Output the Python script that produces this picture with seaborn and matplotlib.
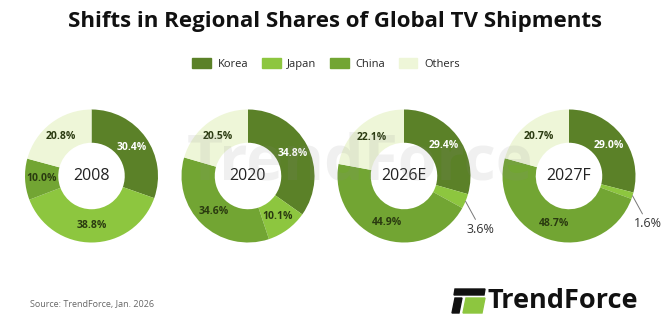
import matplotlib
matplotlib.use("Agg")
import matplotlib.pyplot as plt
import seaborn as sns
import numpy as np
from matplotlib.patches import Polygon, Rectangle

years = ["2008", "2020", "2026E", "2027F"]
regions = ["Korea", "Japan", "China", "Others"]
korea = [30.4, 34.8, 29.4, 29.0]
japan = [38.8, 10.1, 3.6, 1.6]
china = [10.0, 34.6, 44.9, 48.7]
others = [20.8, 20.5, 22.1, 20.7]

colors = ["#5b8128", "#8dc63f", "#72a533", "#eef6d8"]

sns.set_theme(style="white")
plt.rcParams['font.family'] = ['Open Sans', 'DejaVu Sans']

W, H = 670, 325
fig = plt.figure(figsize=(W / 100, H / 100), dpi=100)

centers = [(91.5, 176), (248, 176), (404, 176), (569, 176)]
R = 66.5
half = R * 1.04

# watermark (faint)
fig.text(360 / W, 1 - 163 / H, "TrendForce", ha="center", va="center",
         fontsize=45, fontweight="bold", color="#888888", alpha=0.12, zorder=0)

for i, yr in enumerate(years):
    cx, cy = centers[i]
    ax = fig.add_axes([(cx - half) / W, (H - cy - half) / H, 2 * half / W, 2 * half / H])
    ax.patch.set_alpha(0)
    vals = [korea[i], japan[i], china[i], others[i]]
    wedges, _ = ax.pie(vals, colors=colors, startangle=90, counterclock=False,
                       radius=1.0, wedgeprops=dict(width=0.5, edgecolor="none"))
    ax.set_xlim(-1.04, 1.04)
    ax.set_ylim(-1.04, 1.04)
    ax.set_aspect("equal")
    ax.axis("off")
    start = 90.0
    for j, v in enumerate(vals):
        ang = start - v * 3.6 / 2
        start -= v * 3.6
        rad = np.deg2rad(ang)
        txt = f"{v:.1f}%"
        if v < 5:
            x0, y0 = np.cos(rad) * 1.0, np.sin(rad) * 1.0
            ax.annotate(txt, xy=(x0, y0), xytext=(x0 + 0.02, y0 - 0.42),
                        fontsize=9, color="#333333", ha="left", va="center",
                        arrowprops=dict(arrowstyle="-", color="#777777", lw=0.7,
                                        shrinkA=0, shrinkB=0),
                        annotation_clip=False)
        else:
            r = 0.75
            col = "white" if j == 0 else "#2a3a10"
            ax.text(np.cos(rad) * r, np.sin(rad) * r, txt, ha="center", va="center",
                    fontsize=7.5, fontweight="bold", color=col)
    ax.text(0, 0, yr, ha="center", va="center", fontsize=11.5, color="#222222")

# title
fig.text(0.5, 1 - 22 / H, "Shifts in Regional Shares of Global TV Shipments",
         ha="center", va="center", fontsize=16, fontweight="bold", color="#111111")

# legend
handles = [Rectangle((0, 0), 1, 1, color=c) for c in colors]
fig.legend(handles, regions, loc="center", bbox_to_anchor=(326 / W, 1 - 64 / H),
           ncol=4, frameon=False, fontsize=8, handlelength=1.7, handleheight=0.9,
           columnspacing=1.2, handletextpad=0.6)

# source
fig.text(30 / W, 1 - 305 / H, "Source: TrendForce, Jan. 2026", ha="left", va="center",
         fontsize=6.5, color="#666666")

# logo
lax = fig.add_axes([0, 0, 1, 1], facecolor="none")
lax.set_xlim(0, W)
lax.set_ylim(H, 0)
lax.axis("off")
lax.add_patch(Polygon([(455, 289), (485, 289), (484, 295), (454, 295)], color="#111111"))
lax.add_patch(Polygon([(455, 298), (462, 298), (459, 313), (452, 313)], color="#111111"))
lax.add_patch(Polygon([(466, 298), (485, 298), (482, 313), (463, 313)], color="#8dc63f"))
lax.text(487, 301, "TrendForce", ha="left", va="center", fontsize=19.5,
         fontweight="bold", color="#111111")

fig.savefig("out.png", dpi=100)
